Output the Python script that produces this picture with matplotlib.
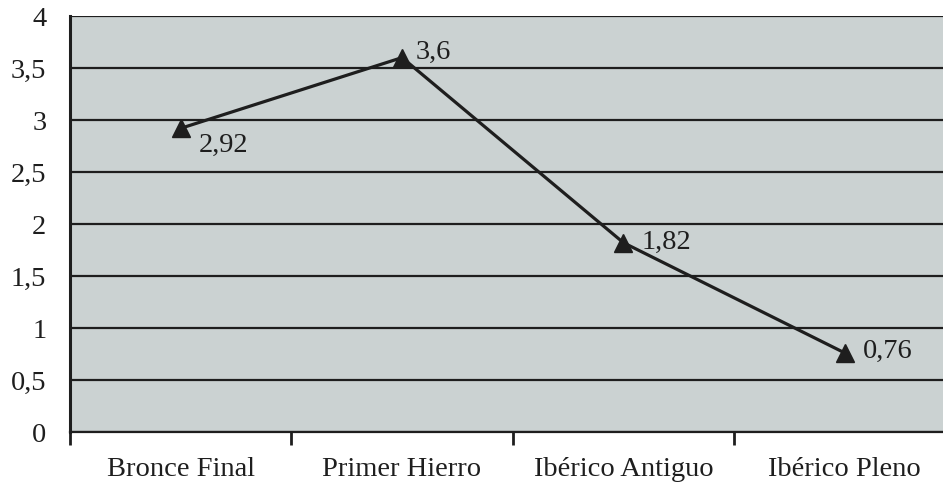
import matplotlib
matplotlib.use("Agg")
import matplotlib.pyplot as plt

periods = ["Bronce Final", "Primer Hierro", "Ibérico Antiguo", "Ibérico Pleno"]
values = [2.92, 3.6, 1.82, 0.76]
value_labels = ["2,92", "3,6", "1,82", "0,76"]
y_ticks = [0, 0.5, 1, 1.5, 2, 2.5, 3, 3.5, 4]
y_tick_labels = ["0", "0,5", "1", "1,5", "2", "2,5", "3", "3,5", "4"]

plt.rcParams["font.family"] = ["Liberation Serif", "DejaVu Serif"]
ink = "#1e1e1e"
fs = 20.5

fig = plt.figure(figsize=(9.43, 4.93), dpi=100)
ax = fig.add_axes([70 / 943, 1 - 432 / 493, (955.5 - 70) / 943, (432 - 16) / 493])
ax.set_facecolor("#cbd2d2")

x = list(range(len(periods)))
ax.set_xlim(-0.5, 3.5)
ax.set_ylim(0, 4)

for yv in y_ticks:
    ax.axhline(yv, color=ink, lw=1.6, zorder=1)

ax.plot(x, values, color=ink, lw=2.3, marker="^", markersize=13,
        markerfacecolor=ink, markeredgecolor=ink, zorder=3)

offsets = [(13, -12), (10, 4), (13, 0), (13, 1)]
for xi, v, lab, off in zip(x, values, value_labels, offsets):
    ax.annotate(lab, (xi, v), xytext=off, textcoords="offset points",
                ha="left", va="center", fontsize=fs, color=ink)

for s in ["top", "right"]:
    ax.spines[s].set_visible(False)
ax.spines["left"].set_linewidth(2.2)
ax.spines["bottom"].set_linewidth(1.6)
ax.spines["left"].set_color(ink)
ax.spines["bottom"].set_color(ink)

ax.set_yticks(y_ticks)
ax.set_yticklabels(y_tick_labels)
ax.tick_params(axis="y", length=0, pad=17, labelsize=fs, labelcolor=ink)

ax.set_xticks([-0.5, 0.5, 1.5, 2.5])
ax.set_xticklabels([])
ax.set_xticks(x, minor=True)
ax.set_xticklabels(periods, minor=True)
ax.tick_params(axis="x", which="major", length=9, width=2, color=ink, direction="out")
ax.tick_params(axis="x", which="minor", length=0, pad=18, labelsize=fs, labelcolor=ink)

fig.savefig("out.png", dpi=100, facecolor="white")
